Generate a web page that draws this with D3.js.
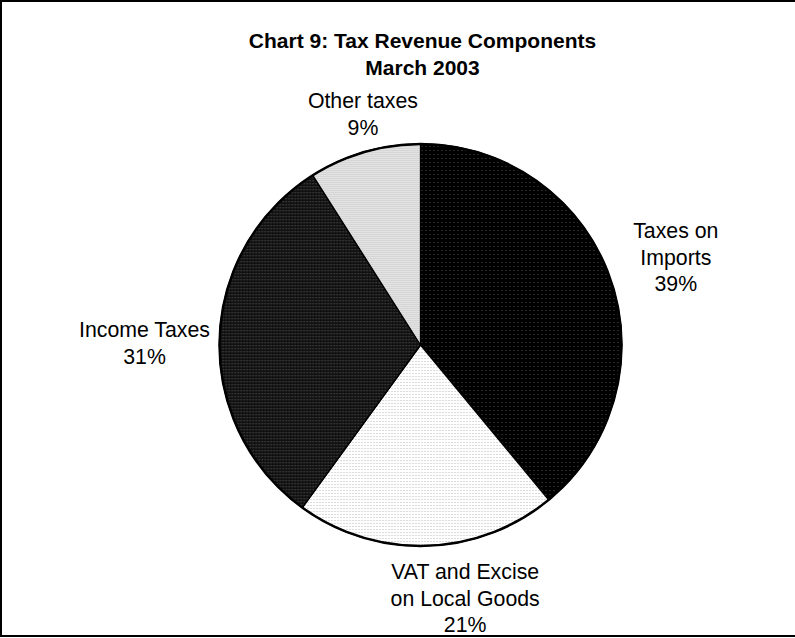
<!DOCTYPE html>
<html>
<head>
<meta charset="utf-8">
<script src="https://cdn.jsdelivr.net/npm/d3@7/dist/d3.min.js"></script>
<style>
  html, body { margin: 0; padding: 0; background: #fff; }
  svg { display: block; }
  text { font-family: "Liberation Sans", Arial, sans-serif; fill: #000; }
</style>
</head>
<body>
<script>
// Tax revenue shares, March 2003
const categories = ["Taxes on Imports", "VAT and Excise on Local Goods", "Income Taxes", "Other taxes"];
const labelLines = [["Taxes on", "Imports"], ["VAT and Excise", "on Local Goods"], ["Income Taxes"], ["Other taxes"]];
const shares = [39, 21, 31, 9];
const titleLines = ["Chart 9: Tax Revenue Components", "March 2003"];

const W = 795, H = 638;
const cx = 420.5, cy = 345, R = 201;

const svg = d3.select("body").append("svg")
  .attr("width", W).attr("height", H);

const defs = svg.append("defs");

// Fill patterns for each slice
function dotPattern(id, size, bg, dots) {
  const p = defs.append("pattern")
    .attr("id", id).attr("patternUnits", "userSpaceOnUse")
    .attr("width", size).attr("height", size);
  p.append("rect").attr("width", size).attr("height", size).attr("fill", bg);
  dots.forEach(d => p.append("rect")
    .attr("x", d[0]).attr("y", d[1]).attr("width", 1).attr("height", 1).attr("fill", d[2]));
}
dotPattern("pImports", 4, "#000", [[1, 1, "#505050"]]);
dotPattern("pVat", 3, "#fff", [[1, 1, "#b8b8b8"]]);
dotPattern("pIncome", 3, "#111", [[0, 0, "#404040"], [1, 0, "#262626"], [0, 1, "#262626"]]);
dotPattern("pOther", 2, "#d6d6d6", [[0, 0, "#eeeeee"]]);
const fills = ["url(#pImports)", "url(#pVat)", "url(#pIncome)", "url(#pOther)"];

// Outer frame
svg.append("rect")
  .attr("x", 1).attr("y", 1).attr("width", W + 10).attr("height", H - 3)
  .attr("fill", "none").attr("stroke", "#000").attr("stroke-width", 2);

// Title
svg.append("g").selectAll("text").data(titleLines).join("text")
  .attr("x", cx + 2).attr("y", (d, i) => 48 + i * 27)
  .attr("text-anchor", "middle")
  .attr("font-size", 21).attr("font-weight", "bold")
  .text(d => d);

const pie = d3.pie().sort(null).value(d => d)(shares);
const arc = d3.arc().innerRadius(0).outerRadius(R);

const g = svg.append("g").attr("transform", `translate(${cx},${cy})`);

g.selectAll("path.slice").data(pie).join("path")
  .attr("class", "slice")
  .attr("d", arc)
  .attr("fill", (d, i) => fills[i])
  .attr("stroke", "#000").attr("stroke-width", 1.3)
  .attr("stroke-linejoin", "round");

// Heavier outer rim
g.append("circle").attr("r", R).attr("fill", "none")
  .attr("stroke", "#000").attr("stroke-width", 2.5);

// Label placement: radius and angular nudge per slice, from the slice mid-angle
const labelRadius = [270, 257, 276, 238];
const labelNudge = [0.8, -8.2, -1.4, 2.2]; // degrees
const lineH = 26.5;

pie.forEach((d, i) => {
  const mid = (d.startAngle + d.endAngle) / 2 + labelNudge[i] * Math.PI / 180;
  const x = Math.sin(mid) * labelRadius[i];
  const y = -Math.cos(mid) * labelRadius[i];
  const lines = labelLines[i].concat([d.data + "%"]);
  const t = g.append("text")
    .attr("text-anchor", "middle")
    .attr("font-size", 21.3);
  const y0 = y - (lines.length - 1) * lineH / 2 + 7.5;
  lines.forEach((s, k) => {
    t.append("tspan").attr("x", x).attr("y", y0 + k * lineH).text(s);
  });
});
</script>
</body>
</html>
